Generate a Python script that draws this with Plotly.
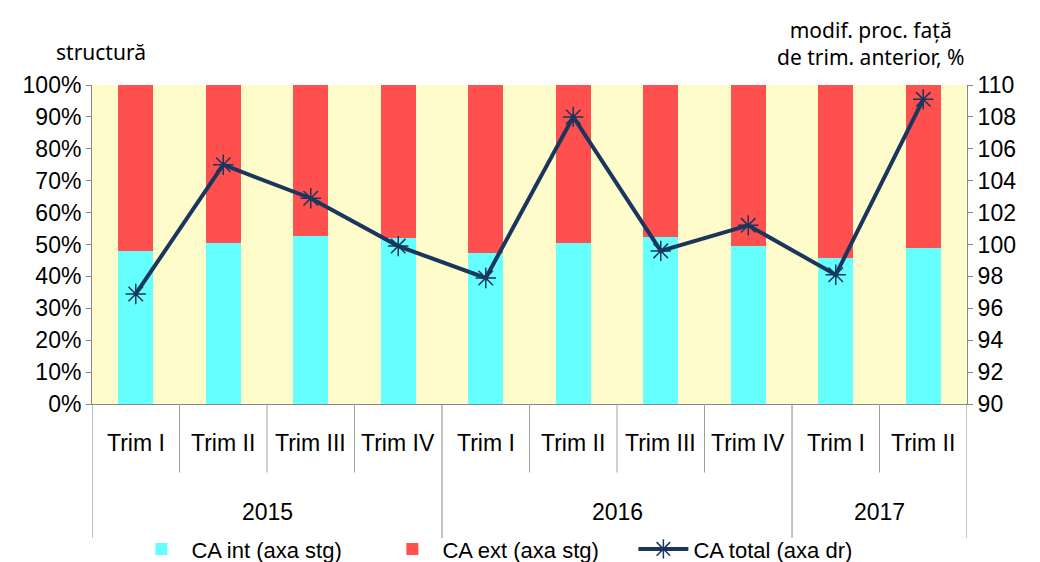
import plotly.graph_objects as go

years = ['2015', '2016', '2017']
year_counts = [4, 4, 2]
quarters = ['Trim I', 'Trim II', 'Trim III', 'Trim IV',
            'Trim I', 'Trim II', 'Trim III', 'Trim IV',
            'Trim I', 'Trim II']
ca_int = [48.1, 50.4, 52.8, 51.9, 47.3, 50.4, 52.4, 49.6, 45.8, 48.8]
ca_ext = [100 - v for v in ca_int]
ca_total = [96.9, 105.0, 102.9, 99.9, 97.9, 108.0, 99.6, 101.2, 98.1, 109.1]

font_main = 'Liberation Sans, Arial, sans-serif'
axis_grey = '#868686'
pos = list(range(len(quarters)))

fig = go.Figure()
fig.add_trace(go.Bar(
    x=pos, y=[v / 100 for v in ca_int], name='CA int (axa stg)',
    marker=dict(color='#66FFFF', line=dict(width=0)), width=0.4,
))
fig.add_trace(go.Bar(
    x=pos, y=[v / 100 for v in ca_ext], name='CA ext (axa stg)',
    marker=dict(color='#FF5050', line=dict(width=0)), width=0.4,
))
fig.add_trace(go.Scatter(
    x=pos, y=ca_total, name='CA total (axa dr)', yaxis='y2',
    mode='lines+markers',
    line=dict(color='#1B365D', width=4),
    marker=dict(symbol='asterisk-open', size=17,
                line=dict(color='#1B365D', width=1.5)),
))

# category labels and separators below the plot
annotations = []
shapes = []
for i, q in enumerate(quarters):
    annotations.append(dict(text=q, x=i, xref='x', y=-0.122, yref='paper',
                            xanchor='center', yanchor='middle',
                            showarrow=False, font=dict(size=23)))
start = 0
for yr, n in zip(years, year_counts):
    annotations.append(dict(text=yr, x=start + (n - 1) / 2, xref='x', y=-0.339,
                            yref='paper', xanchor='center', yanchor='middle',
                            showarrow=False, font=dict(size=23)))
    for k in range(1, n):
        shapes.append(dict(type='line', xref='x', yref='paper',
                           x0=start + k - 0.5, x1=start + k - 0.5, y0=0, y1=-0.215,
                           line=dict(color='#A0A0A0', width=1)))
    start += n
bounds = [-0.5]
acc = -0.5
for n in year_counts:
    acc += n
    bounds.append(acc)
for b in bounds:
    shapes.append(dict(type='line', xref='x', yref='paper',
                       x0=b, x1=b, y0=0, y1=-0.42,
                       line=dict(color=axis_grey, width=1)))

annotations += [
    dict(text='structură', xref='paper', yref='paper', x=0.01, y=1.103,
         xanchor='center', yanchor='middle', showarrow=False,
         font=dict(family='Noto Sans', size=21)),
    dict(text='modif. proc. față<br>de trim. anterior, %', xref='paper', yref='paper',
         x=0.89, y=1.13, xanchor='center', yanchor='middle', showarrow=False,
         align='center', font=dict(family='Noto Sans', size=21)),
]

# the page puts the figure 8px in from the top-left corner
fig.update_layout(
    barmode='stack',
    width=1032, height=554,
    paper_bgcolor='white',
    plot_bgcolor='#FEFCCB',
    margin=dict(l=84, r=73, t=77, b=158, autoexpand=False),
    font=dict(family=font_main, size=23, color='black'),
    showlegend=True,
    legend=dict(orientation='h', x=0.045, xanchor='left', y=-0.455, yanchor='middle',
                font=dict(size=22), bgcolor='rgba(0,0,0,0)', traceorder='normal',
                itemwidth=50, entrywidth=186),
    xaxis=dict(
        range=[-0.5, 9.5], showgrid=False, showticklabels=False, zeroline=False,
        showline=True, linecolor=axis_grey, linewidth=1, ticks='',
    ),
    yaxis=dict(
        range=[0, 1], dtick=0.1, tickformat='.0%', showgrid=False,
        showline=True, linecolor=axis_grey, linewidth=1,
        ticks='outside', ticklen=5, tickcolor=axis_grey,
        tickfont=dict(size=23), zeroline=False,
    ),
    yaxis2=dict(
        range=[90, 110], dtick=2, overlaying='y', side='right', showgrid=False,
        showline=True, linecolor=axis_grey, linewidth=1,
        ticks='outside', ticklen=5, tickcolor=axis_grey,
        tickfont=dict(size=23), zeroline=False,
    ),
    annotations=annotations,
    shapes=shapes,
)

fig.write_html('out.html')
